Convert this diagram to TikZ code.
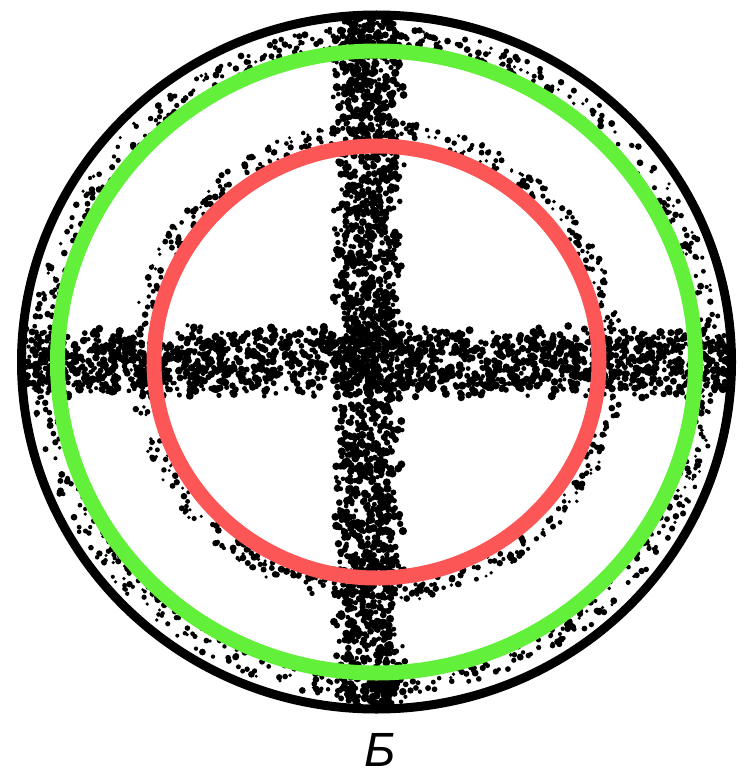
\documentclass[tikz,border=0pt]{standalone}
\usepackage{fontspec}
\usepackage{xcolor}
\usepackage{tikz}
\usetikzlibrary{positioning}
\newfontfamily\cyrfont{Liberation Sans}
\definecolor{ringgreen}{RGB}{98,240,58}
\definecolor{ringred}{RGB}{252,86,86}

\begin{document}
\begin{tikzpicture}[x=1pt, y=-1pt,
        outerring/.style={line width=9pt, black},
        greenring/.style={line width=15pt, ringgreen},
        redring/.style={line width=15pt, ringred},
        speck/.style={fill=black, draw=none}]
        \useasboundingbox (0,0) rectangle (754,778);
        \pgfmathsetseed{4217}
        \coordinate (c) at (376.5,362);

        % stippled cross and rings
        \begin{scope}
            \clip (c) ellipse [x radius=352, y radius=344];
            \foreach \i in {1,...,1900} {
                \pgfmathsetmacro\px{368+29*rand+8*rand}
                \pgfmathsetmacro\py{362+350*rand}
                \pgfmathsetmacro\pr{2+2.2*rnd}
                \fill[speck] (\px,\py) circle (\pr);
            }
            \foreach \i in {1,...,1900} {
                \pgfmathsetmacro\px{377+360*rand}
                \pgfmathsetmacro\py{362+29*rand+8*rand}
                \pgfmathsetmacro\pr{2+2.2*rnd}
                \fill[speck] (\px,\py) circle (\pr);
            }
            \foreach \i in {1,...,520} {
                \pgfmathsetmacro\pa{360*rnd}
                \pgfmathsetmacro\pd{238+9*rand}
                \pgfmathsetmacro\px{376.5+\pd*cos(\pa)}
                \pgfmathsetmacro\py{362+0.975*\pd*sin(\pa)}
                \pgfmathsetmacro\pr{1.6+1.9*rnd}
                \fill[speck] (\px,\py) circle (\pr);
            }
            \foreach \i in {1,...,800} {
                \pgfmathsetmacro\pa{360*rnd}
                \pgfmathsetmacro\pd{333+12*rand}
                \pgfmathsetmacro\px{376.5+\pd*cos(\pa)}
                \pgfmathsetmacro\py{362+0.975*\pd*sin(\pa)}
                \pgfmathsetmacro\pr{1.6+1.9*rnd}
                \fill[speck] (\px,\py) circle (\pr);
            }
        \end{scope}

        \draw[outerring] (c) ellipse [x radius=355, y radius=347];
        \draw[greenring] (c) ellipse [x radius=319, y radius=311];
        \draw[redring] (c) ellipse [x radius=222.5, y radius=216];

        \node[inner sep=0pt] (lblB) at (380,750) {\cyrfont\itshape\fontsize{48}{48}\selectfont Б};
\end{tikzpicture}
\end{document}
